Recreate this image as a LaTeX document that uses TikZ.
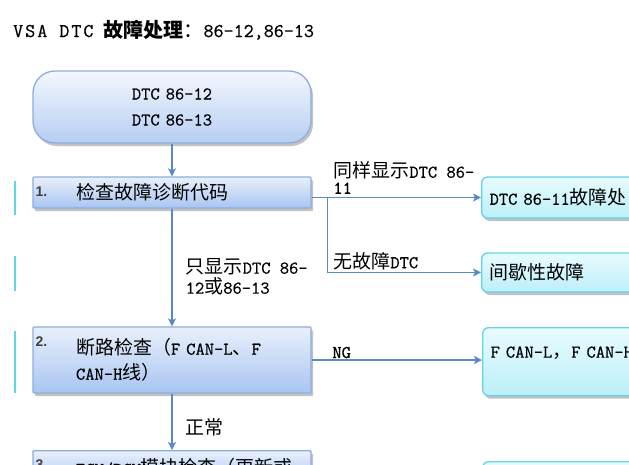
\documentclass[tikz,border=0pt]{standalone}
\usepackage{fontspec}
\setmainfont{Latin Modern Mono}[FakeBold=0.6]
\newfontfamily\cjk{Noto Sans CJK SC}
\newfontfamily\numfont{Liberation Sans}
\usepackage{tikz}
\usetikzlibrary{shapes,arrows.meta,positioning,calc,shadows}

\definecolor{linkblue}{HTML}{5A89C5}
\definecolor{stepedge}{HTML}{8DAEDD}
\definecolor{steptop}{HTML}{E9F0FC}
\definecolor{stepbot}{HTML}{A8C5F1}
\definecolor{starttop}{HTML}{F3F7FE}
\definecolor{startbot}{HTML}{B6CEF3}
\definecolor{cyanedge}{HTML}{62D3E8}
\definecolor{cyantop}{HTML}{E8FCFF}
\definecolor{cyanbot}{HTML}{BCEFF9}

\newcommand\zh[1]{{\cjk\fontsize{19}{20}\selectfont#1}}
\newcommand\indentstep{\hspace*{36pt}}

\begin{document}
\begin{tikzpicture}[x=1pt, y=-1pt,
    font=\fontsize{18}{20}\selectfont,
    stepbox/.style={rectangle, draw=stepedge, line width=1.3pt, rounded corners=1pt,
        top color=steptop, bottom color=stepbot, minimum width=278pt, text width=264pt,
        inner xsep=7pt, align=left, font=\fontsize{18}{25}\selectfont,
        drop shadow={shadow xshift=2pt, shadow yshift=-3pt, fill=black!60, opacity=0.4}},
    startbox/.style={stepbox, rounded corners=22pt, top color=starttop, bottom color=startbot,
        align=center, minimum height=72pt, font=\fontsize{18}{26}\selectfont},
    stepnum/.style={anchor=north west, inner sep=0pt, xshift=3pt, yshift=-10pt,
        font=\numfont\bfseries\fontsize{14}{14}\selectfont, text=black!75},
    outcome/.style={rectangle, draw=cyanedge, line width=1.3pt, rounded corners=6pt,
        top color=cyantop, bottom color=cyanbot, minimum width=230pt, text width=214pt,
        inner xsep=8pt, align=left,
        drop shadow={shadow xshift=2pt, shadow yshift=-3pt, fill=black!60, opacity=0.4}},
    lbl/.style={inner sep=1pt, align=left, font=\fontsize{18}{16}\selectfont},
    arrow/.style={-{Stealth[length=8pt, width=8pt, inset=2pt]}, draw=linkblue, line width=1.5pt},
    edgefrag/.style={draw=cyanedge, line width=1.6pt}
]
\useasboundingbox (0,0) rectangle (629,464);
\clip (0,0) rectangle (629,464);

% Title
\node[anchor=base west, inner sep=0pt, font=\fontsize{19.5}{20}\selectfont] (title) at (13,37)
    {V\kern2pt S\kern2pt A\kern2pt\ D\kern2pt T\kern2pt C\ {\cjk\bfseries\fontsize{20}{20}\selectfont 故障处理}{\cjk\fontsize{20}{20}\selectfont ：}86-12,86-13};

% Left column edges
\foreach \ya/\yb in {181/215, 256/291, 331/393}
    \draw[edgefrag] (15,\ya) -- (15,\yb);

% Main steps
\node[startbox] (start) at (172,107) {DTC 86-12\\DTC 86-13};
\node[stepbox, minimum height=31pt, label={[stepnum]north west:1.}] (check) at (172,192.5)
    {\indentstep\zh{检查故障诊断代码}};
\node[stepbox, minimum height=66pt, label={[stepnum]north west:2.}] (cut) at (172,360)
    {\indentstep\zh{断路检查（}F CAN-L\zh{、}F\\\indentstep CAN-H\zh{线）}};
\node[stepbox, anchor=north, inner ysep=8pt, label={[stepnum]north west:3.}] (ecm) at (172,450)
    {\indentstep ECM/PCM\zh{模块检查（更新或}};

% Outcomes
\node[outcome, anchor=west, minimum height=41pt] (dtc11) at (481,197.5) {DTC 86-11\zh{故障处}};
\node[outcome, anchor=west, minimum height=39pt] (intermit) at (481,272.5) {\zh{间歇性故障}};
\node[outcome, anchor=north west, inner ysep=6pt, text height=24pt, text depth=32pt] (canbox) at (482,327)
    {F CAN-L\zh{，}F CAN-H};
\node[outcome, anchor=north west, minimum height=40pt] (nextout) at (482,461) {};

% Connectors
\coordinate (fork) at ($(check.east |- dtc11.west)+(16,0)$);
\draw[arrow] (start) -- (check);
\draw[arrow] (check.east |- dtc11.west) --
    node[lbl, pos=0, anchor=south west, xshift=20pt, yshift=2pt] {\zh{同样显示}DTC 86-\\11} (dtc11.west);
\draw[arrow] (fork) |- node[lbl, pos=0.5, anchor=south west, xshift=4pt, yshift=1pt] {\zh{无故障}DTC} (intermit.west);
\draw[arrow] (check) --
    node[lbl, pos=0.58, anchor=west, xshift=12pt, font=\fontsize{18}{20}\selectfont] {\zh{只显示}DTC 86-\\12\zh{或}86-13} (cut);
\draw[arrow] (cut.east) -- node[lbl, pos=0, anchor=south west, xshift=19pt] {NG} (cut.east -| canbox.west);
\draw[arrow] (cut) -- node[lbl, pos=0.6, anchor=west, xshift=12pt] {\zh{正常}} (ecm);

\end{tikzpicture}
\end{document}
